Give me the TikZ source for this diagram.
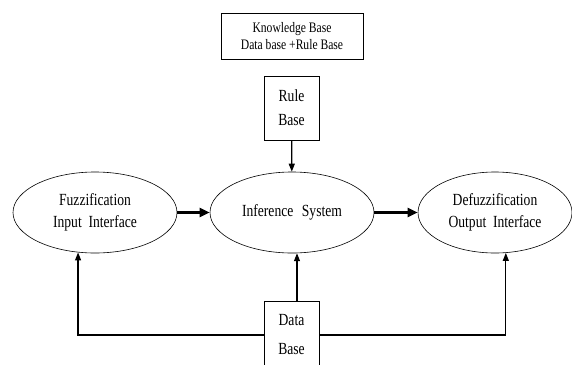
\documentclass[tikz,border=0pt]{standalone}
\usepackage{fontspec}
\setmainfont[FakeStretch=0.8]{Liberation Serif}
\usetikzlibrary{shapes.geometric,arrows.meta,positioning}

\begin{document}
\begin{tikzpicture}[x=1pt,y=-1pt,% one unit = one pixel of the layout
        stage/.style={ellipse,draw,line width=0.6pt,minimum width=164pt,minimum height=81pt,
                inner sep=0pt,align=center,font=\fontsize{17}{22}\selectfont},
        base/.style={rectangle,draw,line width=0.8pt,minimum width=55pt,inner sep=0pt,align=center},
        flow/.style={-{Triangle[length=8pt,width=6pt]},line width=1.2pt},
        bigflow/.style={-{Triangle[length=10pt,width=9pt]},line width=2.4pt}]
\useasboundingbox (0,0) rectangle (572,364);
\clip (0,0) rectangle (572,364); % the data base box runs off the bottom

\node[base,minimum width=142pt,minimum height=46pt,font=\fontsize{14.5}{17}\selectfont] (kb) at (292,36)
        {Knowledge Base\\Data base +Rule Base};
\node[base,minimum height=64pt,font=\fontsize{17}{24}\selectfont] (rb) at (291.5,108) {Rule\\Base};

\node[stage] (fuzz) at (95,212.5) {Fuzzification\\Input\hspace{0.4em}Interface};
\node[stage] (inf) at (292,212.5) {Inference\hspace{0.5em}System};
\node[stage,minimum width=154pt] (defuzz) at (495,212.5) {Defuzzification\\Output\hspace{0.4em}Interface};

\node[base,minimum height=68pt,font=\fontsize{17}{29}\selectfont] (db) at (291.5,335) {Data\\Base};

% rule base feeds the inference
\draw[flow] (rb) -- (inf);
\draw[bigflow] (fuzz.east) -- (inf.west);
\draw[bigflow] (inf.east) -- (defuzz.west);

% data base feeds all three stages
\draw[flow] (inf.-83 |- db.north) -- (inf.-83);
\draw[flow] (db.west) -| (fuzz.-113);
\draw[flow] (db.east) -| (defuzz.-75);
\end{tikzpicture}
\end{document}
